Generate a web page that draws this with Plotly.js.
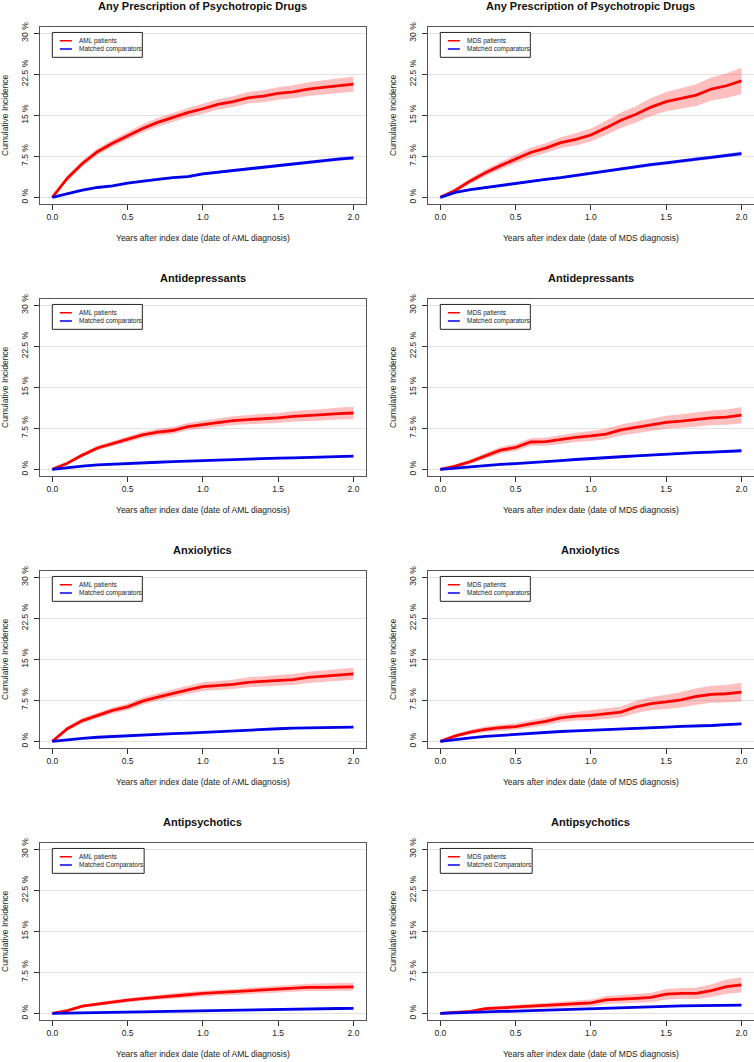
<!DOCTYPE html>
<html>
<head>
<meta charset="utf-8">
<script src="https://cdn.plot.ly/plotly-3.0.1.min.js"></script>
<style>html,body{margin:0;padding:0;background:#fff;}#chart{width:754px;height:1062px;}</style>
</head>
<body>
<div id="chart"></div>
<script>
// ---- data (years after index date; cumulative incidence in %) ----
const T = [0,0.1,0.2,0.3,0.4,0.5,0.6,0.7,0.8,0.9,1.0,1.1,1.2,1.3,1.4,1.5,1.6,1.7,1.8,1.9,2.0];

const panelTitles = ["Any Prescription of Psychotropic Drugs","Any Prescription of Psychotropic Drugs",
  "Antidepressants","Antidepressants","Anxiolytics","Anxiolytics","Antipsychotics","Antipsychotics"];
const xTitles = ["Years after index date (date of AML diagnosis)","Years after index date (date of MDS diagnosis)"];
const yTitle = "Cumulative Incidence";
const xTickVals = [0,0.5,1.0,1.5,2.0];
const xTickText = ["0.0","0.5","1.0","1.5","2.0"];
const yTickVals = [0,7.5,15,22.5,30];
const yTickText = ["0 %","7.5 %","15 %","22.5 %","30 %"];
const legendRed = ["AML patients","MDS patients","AML patients","MDS patients","AML patients","MDS patients","AML patients","MDS patients"];
const legendBlue = ["Matched comparators","Matched comparators","Matched comparators","Matched comparators",
  "Matched comparators","Matched comparators","Matched Comparators","Matched Comparators"];

// Any prescription – AML
const anyAML_red    = [0,3.5,6.2,8.35,9.9,11.2,12.6,13.7,14.6,15.5,16.2,17.0,17.5,18.2,18.5,19.0,19.3,19.8,20.1,20.4,20.7];
const anyAML_redCI  = [0,0.45,0.55,0.6,0.65,0.7,0.75,0.8,0.85,0.85,0.9,0.95,1.0,1.05,1.1,1.15,1.2,1.25,1.3,1.35,1.4];
const anyAML_blue   = [0,0.7,1.3,1.8,2.1,2.6,3.0,3.3,3.6,3.8,4.3,4.6,4.9,5.2,5.6,5.9,6.2,6.4,6.7,7.0,7.2];
const anyAML_blueCI = [0,0.1,0.12,0.15,0.17,0.18,0.2,0.2,0.22,0.23,0.24,0.25,0.26,0.27,0.28,0.29,0.3,0.3,0.31,0.32,0.33];
// Any prescription – MDS
const anyMDS_red    = [0,1.3,3.0,4.5,5.8,7.0,8.2,9.0,10.0,10.6,11.4,12.7,14.1,15.2,16.5,17.5,18.1,18.7,19.8,20.4,21.3];
const anyMDS_redCI  = [0,0.35,0.5,0.6,0.7,0.8,0.85,0.9,1.0,1.1,1.2,1.3,1.4,1.5,1.65,1.75,1.85,2.0,2.1,2.25,2.4];
const anyMDS_blue   = [0,0.9,1.4,1.8,2.2,2.6,3.0,3.3,3.6,4.0,4.5,4.8,5.2,5.6,6.0,6.3,6.7,7.0,7.3,7.7,8.0];
const anyMDS_blueCI = [0,0.12,0.15,0.17,0.19,0.2,0.22,0.23,0.24,0.25,0.27,0.28,0.29,0.3,0.31,0.32,0.33,0.34,0.35,0.36,0.37];
// Antidepressants – AML
const depAML_red    = [0,1.1,2.6,3.9,4.7,5.5,6.3,6.8,7.1,7.8,8.2,8.5,8.9,9.1,9.2,9.4,9.7,9.8,10.0,10.2,10.3];
const depAML_redCI  = [0,0.25,0.35,0.4,0.45,0.5,0.55,0.6,0.62,0.65,0.7,0.75,0.8,0.85,0.9,0.92,0.95,1.0,1.05,1.1,1.15];
const depAML_blue   = [0,0.35,0.6,0.8,0.95,1.1,1.2,1.3,1.4,1.5,1.65,1.7,1.8,1.9,2.0,2.05,2.1,2.15,2.2,2.3,2.4];
const depAML_blueCI = [0,0.06,0.08,0.09,0.1,0.11,0.12,0.12,0.13,0.13,0.14,0.14,0.15,0.15,0.16,0.16,0.16,0.17,0.17,0.17,0.18];
// Antidepressants – MDS
const depMDS_red    = [0,0.6,1.4,2.5,3.5,4.0,5.0,5.05,5.5,5.85,6.1,6.45,7.2,7.7,8.1,8.6,8.8,9.1,9.4,9.55,9.9];
const depMDS_redCI  = [0,0.25,0.4,0.5,0.6,0.65,0.7,0.75,0.8,0.85,0.9,0.95,1.0,1.05,1.1,1.2,1.25,1.3,1.35,1.4,1.5];
const depMDS_blue   = [0,0.25,0.5,0.7,0.9,1.05,1.2,1.4,1.6,1.8,2.0,2.15,2.3,2.45,2.6,2.8,3.0,3.05,3.15,3.3,3.4];
const depMDS_blueCI = [0,0.06,0.08,0.1,0.11,0.12,0.13,0.14,0.15,0.16,0.17,0.17,0.18,0.18,0.19,0.2,0.2,0.21,0.21,0.22,0.22];
// Anxiolytics – AML
const anxAML_red    = [0,2.3,3.8,4.75,5.65,6.3,7.35,8.1,8.8,9.4,10.0,10.2,10.4,10.8,11.0,11.15,11.3,11.7,11.9,12.2,12.35];
const anxAML_redCI  = [0,0.35,0.45,0.5,0.55,0.6,0.65,0.7,0.72,0.75,0.8,0.82,0.85,0.9,0.92,0.95,1.0,1.02,1.05,1.08,1.1];
const anxAML_blue   = [0,0.3,0.55,0.75,0.9,1.05,1.2,1.3,1.4,1.5,1.65,1.8,1.9,2.05,2.2,2.3,2.4,2.45,2.5,2.55,2.6];
const anxAML_blueCI = [0,0.06,0.08,0.09,0.1,0.11,0.12,0.12,0.13,0.13,0.14,0.14,0.15,0.15,0.16,0.16,0.16,0.17,0.17,0.17,0.18];
// Anxiolytics – MDS
const anxMDS_red    = [0,1.0,1.7,2.2,2.5,2.7,3.2,3.65,4.3,4.6,4.75,5.05,5.35,6.3,6.9,7.2,7.6,8.2,8.6,8.7,9.0];
const anxMDS_redCI  = [0,0.3,0.4,0.5,0.55,0.6,0.65,0.7,0.75,0.8,0.9,0.95,1.0,1.1,1.2,1.3,1.4,1.5,1.55,1.6,1.7];
const anxMDS_blue   = [0,0.35,0.65,0.9,1.1,1.3,1.5,1.65,1.8,1.9,2.0,2.1,2.25,2.4,2.5,2.6,2.75,2.8,2.9,3.05,3.2];
const anxMDS_blueCI = [0,0.06,0.08,0.1,0.11,0.12,0.13,0.14,0.15,0.16,0.17,0.17,0.18,0.18,0.19,0.2,0.2,0.21,0.21,0.22,0.22];
// Antipsychotics – AML
const psyAML_red    = [0,0.5,1.3,1.7,2.1,2.4,2.7,2.9,3.2,3.4,3.65,3.8,3.9,4.1,4.3,4.45,4.6,4.75,4.75,4.8,4.85];
const psyAML_redCI  = [0,0.15,0.25,0.3,0.33,0.36,0.4,0.42,0.45,0.48,0.5,0.52,0.55,0.57,0.6,0.62,0.64,0.66,0.68,0.7,0.72];
const psyAML_blue   = [0,0.05,0.1,0.15,0.2,0.25,0.3,0.35,0.4,0.48,0.55,0.58,0.62,0.65,0.7,0.75,0.8,0.83,0.86,0.88,0.9];
const psyAML_blueCI = [0,0.03,0.04,0.05,0.05,0.06,0.06,0.07,0.07,0.08,0.08,0.08,0.09,0.09,0.09,0.1,0.1,0.1,0.1,0.11,0.11];
// Antipsychotics – MDS
const psyMDS_red    = [0,0.2,0.35,0.85,1.0,1.1,1.2,1.35,1.6,1.65,1.9,2.45,2.55,2.75,2.9,3.5,3.65,3.65,4.15,4.9,5.2];
const psyMDS_redCI  = [0,0.1,0.15,0.3,0.35,0.4,0.45,0.5,0.55,0.6,0.65,0.7,0.75,0.8,0.85,0.95,1.0,1.05,1.15,1.3,1.4];
const psyMDS_blue   = [0,0.1,0.25,0.3,0.35,0.4,0.5,0.55,0.6,0.75,0.85,0.95,1.1,1.15,1.2,1.28,1.35,1.4,1.45,1.48,1.5];
const psyMDS_blueCI = [0,0.04,0.05,0.06,0.07,0.07,0.08,0.08,0.09,0.1,0.1,0.11,0.12,0.12,0.12,0.13,0.13,0.13,0.14,0.14,0.14];

const panels = [
  [anyAML_red, anyAML_redCI, anyAML_blue, anyAML_blueCI],
  [anyMDS_red, anyMDS_redCI, anyMDS_blue, anyMDS_blueCI],
  [depAML_red, depAML_redCI, depAML_blue, depAML_blueCI],
  [depMDS_red, depMDS_redCI, depMDS_blue, depMDS_blueCI],
  [anxAML_red, anxAML_redCI, anxAML_blue, anxAML_blueCI],
  [anxMDS_red, anxMDS_redCI, anxMDS_blue, anxMDS_blueCI],
  [psyAML_red, psyAML_redCI, psyAML_blue, psyAML_blueCI],
  [psyMDS_red, psyMDS_redCI, psyMDS_blue, psyMDS_blueCI]
];

// ---- styling / layout ----
const W = 754, H = 1062;
const FONT = "Liberation Sans, Arial, Helvetica, sans-serif";
const RED = "rgb(255,0,0)", BLUE = "rgb(0,0,235)";
const RED_BAND = "rgba(255,0,0,0.25)", BLUE_BAND = "rgba(0,0,255,0.25)";
const colPx = [[40.25, 365.5], [428.25, 753.5]];
const rowTop0 = 26.7, rowBot0 = 203.9, rowStep = 272;

const traces = [];
const layout = {
  width: W, height: H, autosize: false,
  margin: {l: 0, r: 0, t: 0, b: 0, pad: 0},
  paper_bgcolor: "#fff", plot_bgcolor: "#fff",
  showlegend: false,
  font: {family: FONT, color: "#222"},
  annotations: [], shapes: []
};

function band(xa, ya, mean, ci, color) {
  const lo = mean.map((v, i) => v - ci[i]);
  const hi = mean.map((v, i) => v + ci[i]);
  traces.push({x: T, y: lo, xaxis: xa, yaxis: ya, mode: "lines", line: {width: 0, color: color}, hoverinfo: "skip"});
  traces.push({x: T, y: hi, xaxis: xa, yaxis: ya, mode: "lines", line: {width: 0, color: color}, fill: "tonexty", fillcolor: color, hoverinfo: "skip"});
}

panels.forEach((p, i) => {
  const n = i + 1;
  const row = Math.floor(i / 2), col = i % 2;
  const xa = "x" + (n === 1 ? "" : n), ya = "y" + (n === 1 ? "" : n);
  const xk = "xaxis" + (n === 1 ? "" : n), yk = "yaxis" + (n === 1 ? "" : n);
  const top = rowTop0 + rowStep * row, bot = rowBot0 + rowStep * row;
  const xd = [colPx[col][0] / W, colPx[col][1] / W];
  const yd = [1 - bot / H, 1 - top / H];

  band(xa, ya, p[0], p[1], RED_BAND);
  band(xa, ya, p[2], p[3], BLUE_BAND);
  traces.push({x: T, y: p[0], xaxis: xa, yaxis: ya, mode: "lines", line: {color: RED, width: 2.8}, name: legendRed[i]});
  traces.push({x: T, y: p[2], xaxis: xa, yaxis: ya, mode: "lines", line: {color: BLUE, width: 2.8}, name: legendBlue[i]});

  layout[xk] = {
    domain: xd, anchor: ya, range: [-0.08, 2.08],
    tickmode: "array", tickvals: xTickVals, ticktext: xTickText,
    ticks: "outside", ticklen: 5, tickwidth: 1, tickcolor: "#333",
    showline: true, mirror: true, linecolor: "#555", linewidth: 1,
    showgrid: false, zeroline: false,
    tickfont: {family: FONT, size: 8.5, color: "#222"},
    title: {text: xTitles[col], font: {family: FONT, size: 8.5, color: "#222"}, standoff: 13}
  };
  layout[yk] = {
    domain: yd, anchor: xa, range: [-1.2, 31.2],
    tickmode: "array", tickvals: yTickVals, ticktext: yTickText, tickangle: -90,
    ticks: "outside", ticklen: 5, tickwidth: 1, tickcolor: "#333", ticklabelstandoff: 3,
    showline: true, mirror: true, linecolor: "#555", linewidth: 1,
    showgrid: true, gridcolor: "#e2e2e2", gridwidth: 1, zeroline: false,
    tickfont: {family: FONT, size: 8.5, color: "#222"},
    title: {text: yTitle, font: {family: FONT, size: 8.5, color: "#222"}, standoff: 9}
  };

  // panel title
  layout.annotations.push({
    xref: "paper", yref: "paper", x: (xd[0] + xd[1]) / 2, y: 1 - (top - 20.7) / H,
    xanchor: "center", yanchor: "middle", showarrow: false,
    text: "<b>" + panelTitles[i] + "</b>", font: {family: FONT, size: 11, color: "#111"}
  });

  // legend box (R-style)
  const lw = legendBlue[i] === "Matched Comparators" ? 0.61 : 0.598;
  layout.shapes.push({type: "rect", xref: xa, yref: ya, x0: 0, x1: lw, y0: 25.6, y1: 30.15,
    line: {color: "#222", width: 1}, fillcolor: "#fff", layer: "above"});
  layout.shapes.push({type: "line", xref: xa, yref: ya, x0: 0.05, x1: 0.13, y0: 28.64, y1: 28.64,
    line: {color: RED, width: 1.5}, layer: "above"});
  layout.shapes.push({type: "line", xref: xa, yref: ya, x0: 0.05, x1: 0.13, y0: 27.13, y1: 27.13,
    line: {color: BLUE, width: 1.5}, layer: "above"});
  layout.annotations.push({xref: xa, yref: ya, x: 0.162, y: 28.64, xanchor: "left", yanchor: "middle",
    showarrow: false, text: legendRed[i], font: {family: FONT, size: 6.5, color: "#222"}});
  layout.annotations.push({xref: xa, yref: ya, x: 0.162, y: 27.13, xanchor: "left", yanchor: "middle",
    showarrow: false, text: legendBlue[i], font: {family: FONT, size: 6.5, color: "#222"}});
});

Plotly.newPlot("chart", traces, layout, {staticPlot: true, displayModeBar: false});
</script>
</body>
</html>
